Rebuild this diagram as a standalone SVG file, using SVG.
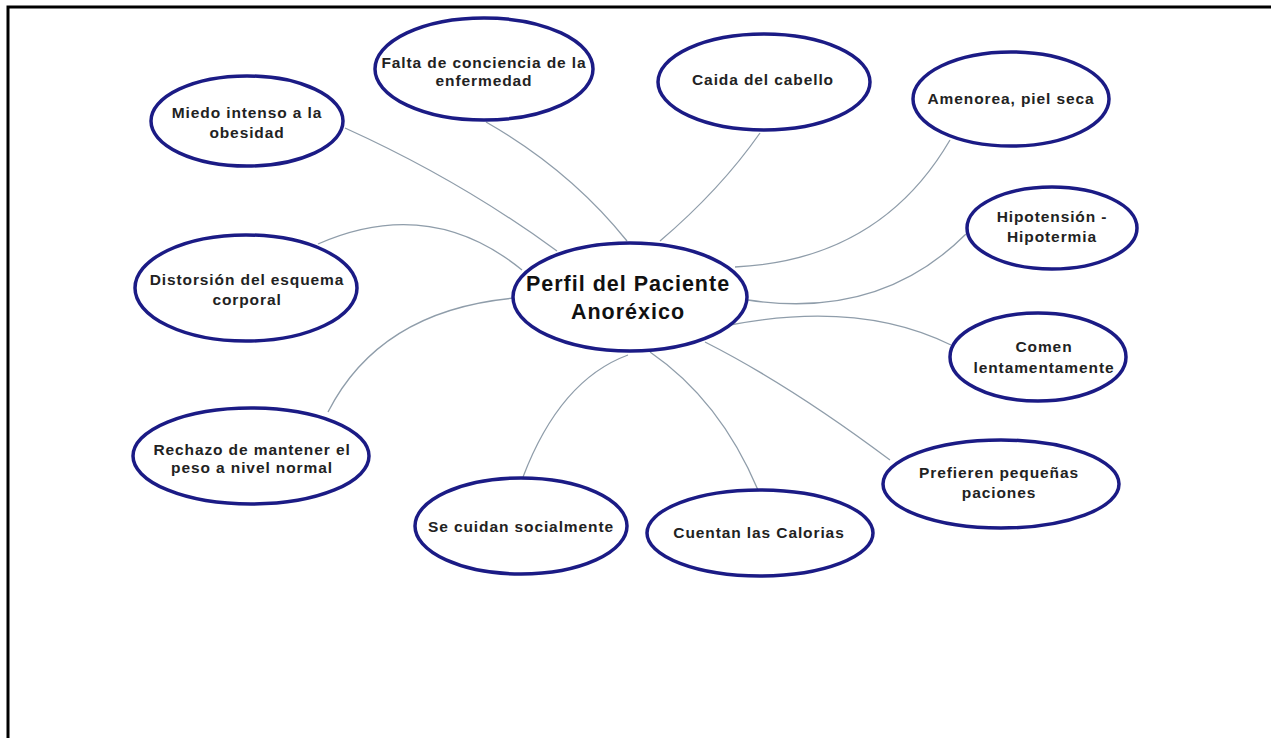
<svg xmlns="http://www.w3.org/2000/svg" width="1271" height="738" viewBox="0 0 1271 738">
<style>
.n{fill:#fff;stroke:#1b1b85;stroke-width:3.5}
.t{font-family:"Liberation Sans",Arial,sans-serif;font-weight:bold;font-size:15.5px;fill:#222;text-anchor:middle;letter-spacing:0.9px}
.tt{font-family:"Liberation Sans",Arial,sans-serif;font-weight:bold;font-size:21.5px;fill:#111;text-anchor:middle;letter-spacing:1px}
.c{fill:none;stroke:#8f9daa;stroke-width:1.3}
</style>
<rect x="0" y="0" width="1271" height="738" fill="#fff"/>
<path d="M8,738 V7 H1271" fill="none" stroke="#000" stroke-width="3"/>
<g id="connectors">
<path class="c" d="M345,128 Q460,180 557,251"/>
<path class="c" d="M486,122 Q570,170 627,241"/>
<path class="c" d="M760,133 Q720,190 660,241"/>
<path class="c" d="M950,140 Q880,260 735,267"/>
<path class="c" d="M966,234 Q880,320 748,300"/>
<path class="c" d="M951,345 Q860,300 730,325"/>
<path class="c" d="M890,460 Q790,385 705,342"/>
<path class="c" d="M758,490 Q720,400 650,352"/>
<path class="c" d="M523,477 Q560,380 628,355"/>
<path class="c" d="M328,412 Q380,310 515,298"/>
<path class="c" d="M318,244 Q430,195 522,270"/>
</g>
<g id="n-miedo"><ellipse class="n" cx="247" cy="121" rx="96" ry="45"/><text class="t" x="247" y="118">Miedo intenso a la</text><text class="t" x="247" y="138">obesidad</text></g>
<g id="n-falta"><ellipse class="n" cx="484" cy="69" rx="109" ry="51"/><text class="t" x="484" y="68">Falta de conciencia de la</text><text class="t" x="484" y="86">enfermedad</text></g>
<g id="n-caida"><ellipse class="n" cx="764" cy="82" rx="106" ry="48"/><text class="t" x="763" y="85">Caida del cabello</text></g>
<g id="n-amenorea"><ellipse class="n" cx="1011" cy="99" rx="98" ry="47"/><text class="t" x="1011" y="104">Amenorea, piel seca</text></g>
<g id="n-hipotension"><ellipse class="n" cx="1052" cy="228" rx="85" ry="41"/><text class="t" x="1052" y="222">Hipotensión -</text><text class="t" x="1052" y="242">Hipotermia</text></g>
<g id="n-distorsion"><ellipse class="n" cx="246" cy="288" rx="111" ry="53"/><text class="t" x="247" y="285">Distorsión del esquema</text><text class="t" x="247" y="305">corporal</text></g>
<g id="n-center"><ellipse class="n" cx="630" cy="297" rx="117" ry="54"/><text class="tt" x="628" y="291">Perfil del Paciente</text><text class="tt" x="628" y="319">Anoréxico</text></g>
<g id="n-comen"><ellipse class="n" cx="1038" cy="357" rx="88" ry="44"/><text class="t" x="1044" y="352">Comen</text><text class="t" x="1044" y="373">lentamentamente</text></g>
<g id="n-rechazo"><ellipse class="n" cx="251" cy="456" rx="118" ry="48"/><text class="t" x="252" y="455">Rechazo de mantener el</text><text class="t" x="252" y="473">peso a nivel normal</text></g>
<g id="n-prefieren"><ellipse class="n" cx="1001" cy="484" rx="118" ry="44"/><text class="t" x="999" y="478">Prefieren pequeñas</text><text class="t" x="999" y="498">paciones</text></g>
<g id="n-secuidan"><ellipse class="n" cx="521" cy="526" rx="106" ry="48"/><text class="t" x="521" y="532">Se cuidan socialmente</text></g>
<g id="n-cuentan"><ellipse class="n" cx="760" cy="533" rx="113" ry="43"/><text class="t" x="759" y="538">Cuentan las Calorias</text></g>
</svg>
